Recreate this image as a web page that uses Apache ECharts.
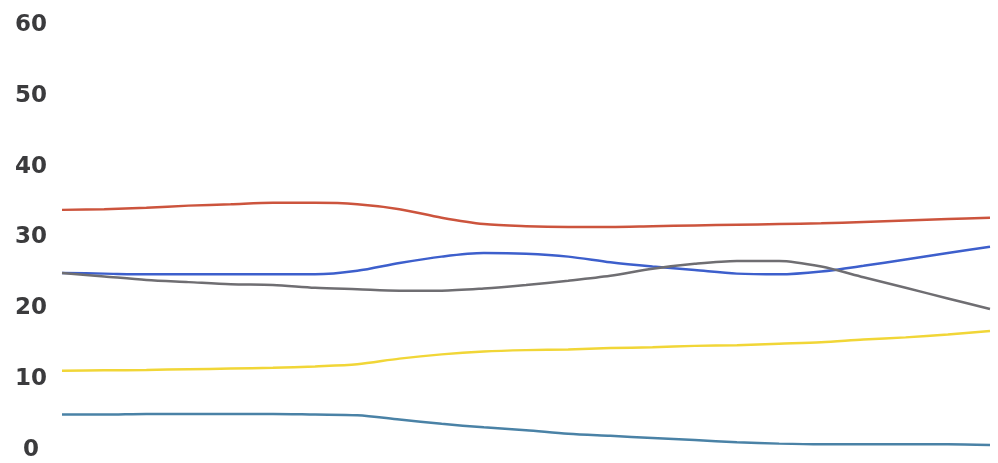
<!DOCTYPE html>
<html><head><meta charset="utf-8">
<script src="https://cdn.jsdelivr.net/npm/echarts@6/dist/echarts.min.js"></script>
<style>html,body{margin:0;padding:0;background:#fff}#c{width:998px;height:463px}</style>
</head><body><div id="c"></div>
<script>
const categories = ['1','2','3','4','5','6','7','8','9','10','11','12','13','14','15','16','17','18','19','20','21','22','23'];
const yTicks = [0,10,20,30,40,50,60];
const redSeries    = [33.9,34.0,34.2,34.5,34.7,34.9,34.9,34.7,34.0,32.8,31.9,31.6,31.5,31.5,31.6,31.7,31.8,31.9,32.0,32.2,32.4,32.6,32.8];
const blueSeries   = [25.0,24.9,24.8,24.8,24.8,24.8,24.8,25.3,26.4,27.3,27.8,27.7,27.3,26.5,25.9,25.4,24.9,24.8,25.2,26.0,26.9,27.8,28.7];
const graySeries   = [25.0,24.5,24.0,23.7,23.4,23.3,22.9,22.7,22.5,22.5,22.8,23.3,23.9,24.6,25.6,26.3,26.7,26.7,25.9,24.4,22.9,21.4,19.9];
const yellowSeries = [11.2,11.25,11.3,11.4,11.5,11.6,11.8,12.1,12.9,13.5,13.9,14.1,14.2,14.4,14.5,14.7,14.8,15.0,15.2,15.6,15.9,16.3,16.8];
const tealSeries   = [5.0,5.0,5.1,5.1,5.1,5.1,5.0,4.9,4.3,3.7,3.2,2.8,2.3,2.0,1.7,1.4,1.1,0.9,0.8,0.8,0.8,0.8,0.7];

const mk = (data, color) => ({type:'line', data, smooth:0.3, symbol:'none', lineStyle:{color, width:2.5}, itemStyle:{color}});
const chart = echarts.init(document.getElementById('c'));
chart.setOption({
  backgroundColor:'#ffffff',
  animation:false,
  grid:{left:62, right:8, top:25, bottom:13},
  xAxis:{type:'category', data:categories, boundaryGap:false, show:false},
  yAxis:{type:'value', min:yTicks[0], max:yTicks[yTicks.length-1], interval:10,
    axisLine:{show:false}, axisTick:{show:false}, splitLine:{show:false},
    axisLabel:{align:'center', margin:31, padding:[6,0,0,0], fontFamily:'DejaVu Sans', fontWeight:'bold', fontSize:23, color:'#3b3b3d'}},
  series:[
    mk(redSeries,'#cc543d'),
    mk(blueSeries,'#3d5fcc'),
    mk(graySeries,'#6f6e72'),
    mk(yellowSeries,'#f1d637'),
    mk(tealSeries,'#4a82a6')
  ]
});
</script></body></html>
